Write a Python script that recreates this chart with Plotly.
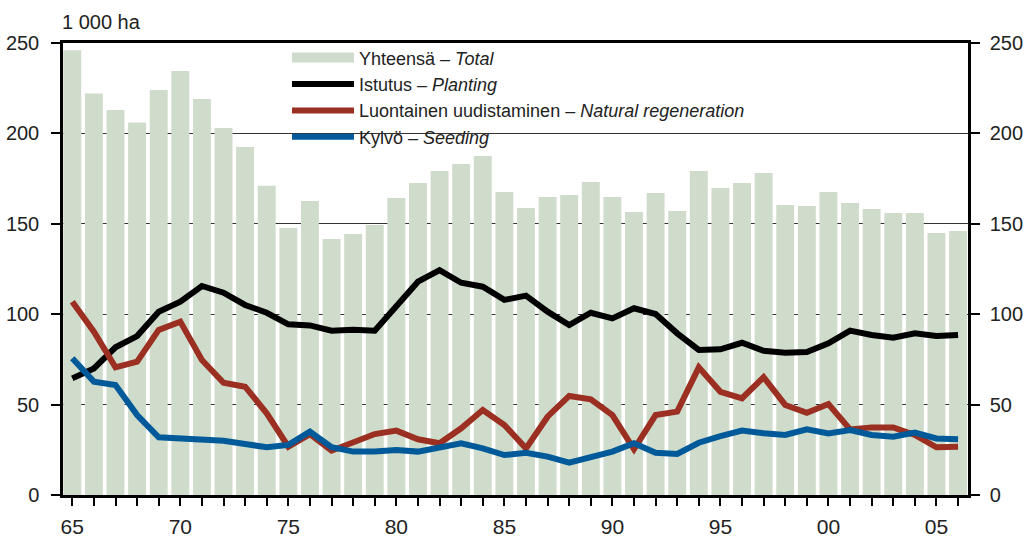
import plotly.graph_objects as go

years = list(range(1965, 2007))
total = [246, 222, 213, 206, 224, 234.5, 219, 203, 192.5, 171, 147.7, 162.6, 141.6, 144.4, 149.3,
         164.3, 172.6, 179.2, 183.1, 187.5, 167.6, 158.7, 164.8, 165.9, 173.1, 164.8, 156.5,
         167, 157.1, 179.2, 169.8, 172.6, 178.1, 160.4, 159.8, 167.6, 161.5, 158.2, 156, 156, 144.9, 146]
planting = [64.5, 70, 81.7, 87.9, 101.4, 106.9, 115.6, 111.9, 105.1, 100.8, 94.4, 93.8, 90.9, 91.4, 90.9,
            104.2, 118, 124.4, 117.4, 115.2, 107.9, 110.3, 101.4, 94, 100.8, 97.7, 103.3,
            100.1, 89.4, 80.2, 80.6, 84.2, 79.8, 78.7, 79.1, 83.9, 90.9, 88.5, 87, 89.4, 87.9, 88.5]
natural = [106.9, 90.3, 70.6, 73.7, 91.3, 95.9, 74.7, 62.1, 59.9, 45.2, 26.7, 33.7, 24.5, 28.9, 33.7,
           35.6, 30.8, 28.6, 36.9, 47, 38.7, 25.8, 43.3, 54.8, 52.9, 44.2, 25.3,
           44.2, 46.1, 70.6, 57.1, 53.5, 65.1, 49.8, 45.5, 50.3, 36.3, 37.4, 37.4, 33.2, 26.4, 26.7]
seeding = [75.6, 62.7, 60.8, 44.2, 31.9, 31.3, 30, 30, 28.2, 26.4, 27.7, 35, 26.4, 24, 24,
           24.9, 24, 26.4, 28.6, 25.8, 22.1, 23.4, 21.2, 17.9, 20.8, 24, 28.6,
           23.4, 22.7, 28.9, 32.6, 35.6, 34.1, 33.2, 36.3, 34.1, 35.9, 33.2, 32.2, 34.5, 31.3, 30.8]
y_ticks = [0, 50, 100, 150, 200, 250]

FONT = "Liberation Sans, Arial, sans-serif"
TXT = "#222222"
BAR = "#d0dccb"
RED = "#9a2f22"
BLUE = "#005a9a"

names = ["Yhteensä – <i>Total</i>", "Istutus – <i>Planting</i>",
         "Luontainen uudistaminen – <i>Natural regeneration</i>", "Kylvö – <i>Seeding</i>"]

fig = go.Figure()
fig.add_trace(go.Bar(x=years, y=total, marker=dict(color=BAR, line=dict(width=0)),
                     showlegend=False, name=names[0]))
fig.add_trace(go.Scatter(x=[None], y=[None], mode="lines", line=dict(color=BAR, width=16),
                         name=names[0]))
fig.add_trace(go.Scatter(x=years, y=planting, mode="lines", name=names[1],
                         line=dict(color="black", width=6)))
fig.add_trace(go.Scatter(x=years, y=natural, mode="lines", name=names[2],
                         line=dict(color=RED, width=6)))
# Seeding is drawn on the right-hand axis (same 0-250 scale) so that axis is rendered
fig.add_trace(go.Scatter(x=years, y=seeding, mode="lines", name=names[3], yaxis="y2",
                         line=dict(color=BLUE, width=6)))

ticktext = [str(y)[2:] if y % 5 == 0 else "" for y in years]

axis_common = dict(ticks="outside", tickwidth=1.5, tickcolor="black", automargin=False,
                   showline=True, linecolor="black", linewidth=2.5, zeroline=False)
yfont = dict(size=20, family=FONT, color=TXT)

fig.update_layout(
    width=1025, height=540,
    margin=dict(l=63, r=57, t=43, b=45, autoexpand=False),
    paper_bgcolor="white", plot_bgcolor="white",
    font=dict(family=FONT, size=20, color=TXT),
    bargap=0.17,
    showlegend=True,
    legend=dict(x=0.2475, y=0.927, xref="paper", yref="container", xanchor="left", yanchor="top",
                bgcolor="rgba(0,0,0,0)", itemwidth=62,
                font=dict(size=18, family=FONT, color=TXT),
                tracegroupgap=0, itemclick=False),
    xaxis=dict(range=[1964.57, 2006.46], tickvals=years, ticktext=ticktext,
               ticklen=8, mirror=True, showgrid=False, ticklabelstandoff=3,
               tickfont=dict(size=21, family=FONT, color=TXT), **axis_common),
    yaxis=dict(range=[0, 250], tickvals=y_ticks, ticklen=9, showgrid=True,
               gridcolor="#333333", gridwidth=1, ticklabelstandoff=8, tickfont=yfont,
               **axis_common),
    yaxis2=dict(range=[0, 250], tickvals=y_ticks, overlaying="y", side="right",
                ticklen=9, showgrid=False, ticklabelstandoff=6, tickfont=yfont, **axis_common),
    annotations=[dict(text="1 000 ha", xref="paper", yref="paper", x=0, y=1, xshift=-3, yshift=8,
                      xanchor="left", yanchor="bottom", showarrow=False,
                      font=dict(size=20, family=FONT, color=TXT))],
    shapes=[dict(type="rect", xref="paper", yref="y", x0=0.242, x1=0.497, y0=196, y1=204,
                 fillcolor="white", line=dict(width=0), layer="between")],
)

# remove the browser's default 8px body margin so the 1025x540 figure fills the window
fig.write_html("out.html", config={"displayModeBar": False},
               post_script="document.body.style.margin='0';document.body.style.overflow='hidden';")
